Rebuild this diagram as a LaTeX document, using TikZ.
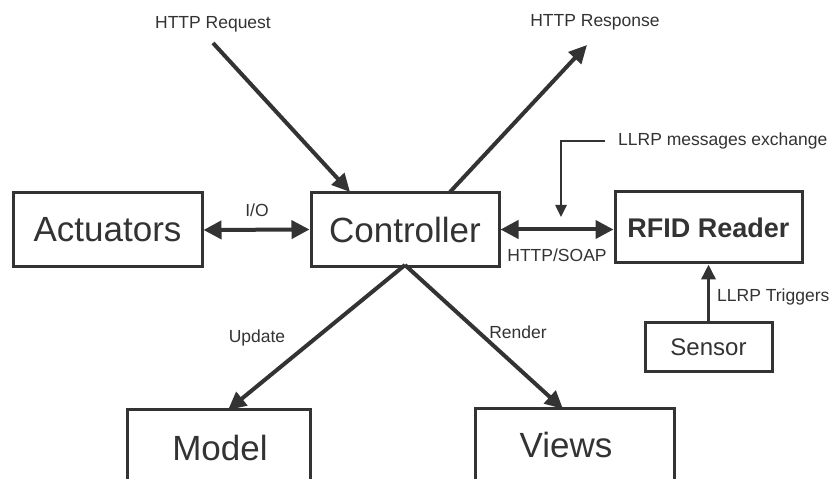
\documentclass[tikz,border=0pt]{standalone}
\usepackage{fontspec}
\setmainfont{Liberation Sans}
\usetikzlibrary{arrows.meta,calc}
\definecolor{ink}{HTML}{333333}
\begin{document}
\begin{tikzpicture}[x=1pt,y=1pt,
  box/.style={draw=ink,line width=3pt,inner sep=0pt,text=ink},
  lbl/.style={text=ink,inner sep=0pt,font=\fontsize{17.5}{18}\selectfont},
  big/.style={font=\fontsize{35}{36}\selectfont},
  conn/.style={draw=ink,line width=4pt,-{Triangle[length=18pt,width=17pt]}},
  biconn/.style={draw=ink,line width=4pt,{Triangle[length=18pt,width=18pt]}-{Triangle[length=18pt,width=18pt]}},
  leader/.style={draw=ink,line width=2.5pt,-{Triangle[length=12pt,width=11pt]}}]
\useasboundingbox (0,0) rectangle (833,479);
\clip (0,0) rectangle (833,479);
\fill[white] (0,0) rectangle (833,479);
% boxes
\node[box,big,minimum width=189,minimum height=74] (act) at (107.5,249) {Actuators};
\node[box,big,minimum width=188,minimum height=74] (ctrl) at (405,249.5) {Controller};
\node[box,minimum width=187,minimum height=71,font=\bfseries\fontsize{27}{28}\selectfont] (rfid) at (708.5,251.5) {RFID Reader};
\node[box,minimum width=127,minimum height=49,font=\fontsize{24}{25}\selectfont] (sensor) at (708.5,131.5) {Sensor};
\node[box,minimum width=183,minimum height=89] (model) at (218.5,24.5) {};
\node[text=ink,big] (modeltxt) at (220,31) {Model};
\node[box,minimum width=199,minimum height=89] (views) at (574.5,25.5) {};
\node[text=ink,big] (viewstxt) at (566,34) {Views};
% top labels
\node[lbl] (req) at (213,455) {HTTP Request};
\node[lbl] (resp) at (595,457) {HTTP Response};
\coordinate (reqs) at (213,436);
\coordinate (respe) at (587,434);
\draw[conn] (reqs) -- (350,287);
\draw[conn] (450,287) -- (respe);
% horizontal links
\draw[biconn] (act.east) -- (ctrl.west);
\node[lbl] (io) at (257,269) {I/O};
\draw[biconn] (ctrl.east) -- (rfid.west |- ctrl.east);
\node[lbl] (soap) at (557,224) {HTTP/SOAP};
% LLRP messages leader
\node[lbl,anchor=west] (llrp) at (618,338) {LLRP messages exchange};
\coordinate (lb) at (561,338);
\coordinate (le) at (561,262);
\draw[leader] (605,338) -- (lb) -- (le);
% sensor
\draw[draw=ink,line width=3.5pt,-{Triangle[length=15pt,width=14pt]}] (sensor.north) -- (rfid.south);
\node[lbl,anchor=west] (trig) at (717,182) {LLRP Triggers};
% update / render
\coordinate (apex) at (405,214);
\draw[conn] (apex) -- (228,69);
\draw[conn] (apex) -- (563,70);
\node[lbl] (upd) at (257,141) {Update};
\node[lbl] (rend) at (518,147) {Render};
\end{tikzpicture}
\end{document}
